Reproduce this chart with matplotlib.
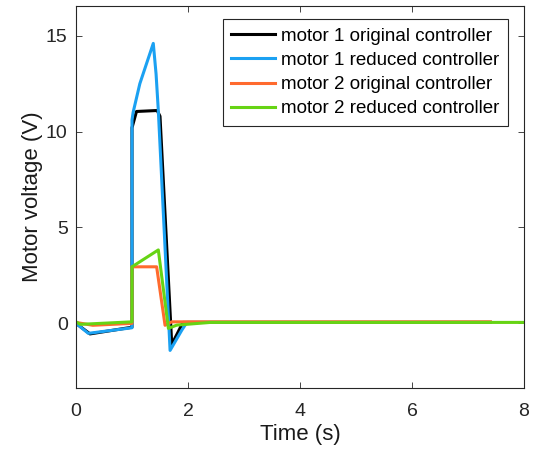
import matplotlib
matplotlib.use("Agg")
import matplotlib.pyplot as plt

plt.rcParams["font.family"] = ["Liberation Sans", "DejaVu Sans"]

# motor 1 original controller
t_m1_orig = [0, 0.25, 1.0, 1.0, 1.08, 1.45, 1.5, 1.71, 1.91, 2.3, 7.4]
v_m1_orig = [0, -0.55, -0.2, 10.2, 11.05, 11.1, 10.8, -1.1, 0.05, 0.05, 0.05]

# motor 1 reduced controller
t_m1_red = [0, 0.22, 1.0, 1.0, 1.02, 1.14, 1.38, 1.43, 1.47, 1.68, 1.89, 1.98, 2.3, 7.4]
v_m1_red = [0, -0.52, -0.23, 10.6, 11.0, 12.5, 14.6, 13.0, 11.1, -1.41, -0.35, 0.05, 0.05, 0.05]

# motor 2 original controller
t_m2_orig = [0, 0.3, 1.0, 1.0, 1.44, 1.59, 1.71, 2.5, 7.4]
v_m2_orig = [0.05, -0.1, 0.0, 2.95, 2.95, -0.1, 0.08, 0.08, 0.08]

# motor 2 reduced controller
t_m2_red = [0, 0.08, 1.0, 1.0, 1.47, 1.65, 1.8, 2.4, 8.0]
v_m2_red = [0.08, -0.05, 0.08, 2.95, 3.83, -0.26, -0.09, 0.05, 0.05]

series = [
    (t_m1_orig, v_m1_orig, "#000000", "motor 1 original controller"),
    (t_m1_red, v_m1_red, "#1ba1f2", "motor 1 reduced controller"),
    (t_m2_orig, v_m2_orig, "#ff6a2e", "motor 2 original controller"),
    (t_m2_red, v_m2_red, "#66d414", "motor 2 reduced controller"),
]

fig = plt.figure(figsize=(5.39, 4.57), dpi=100)
ax = fig.add_axes([76 / 539, 1 - 388 / 457, 448 / 539, 382 / 457])

for t, v, color, label in series:
    ax.plot(t, v, color=color, lw=2.2, label=label)

ax.set_xlim(0, 8)
ax.set_ylim(-3.37, 16.55)
ax.set_xticks([0, 2, 4, 6, 8])
ax.set_yticks([0, 5, 10, 15])
ax.tick_params(direction="in", top=True, right=True, labelsize=14,
               colors="#262626", length=4, width=0.6)
ax.tick_params(axis="x", pad=11)
ax.tick_params(axis="y", pad=6)
for s in ax.spines.values():
    s.set_color("#262626")
    s.set_linewidth(0.8)

ax.set_xlabel("Time (s)", fontsize=16, color="#1a1a1a", labelpad=3)
ax.set_ylabel("Motor voltage (V)", fontsize=16, color="#1a1a1a", labelpad=2)

leg = ax.legend(loc="upper right", bbox_to_anchor=(432 / 448, 1 - 13 / 382),
                fontsize=13.5, frameon=True, fancybox=False, framealpha=1,
                handlelength=2.35, handletextpad=0.32, labelspacing=0.38,
                borderaxespad=0, borderpad=0.45)
leg.get_frame().set_edgecolor("#262626")
leg.get_frame().set_linewidth(0.8)

fig.savefig("out.png", dpi=100)
